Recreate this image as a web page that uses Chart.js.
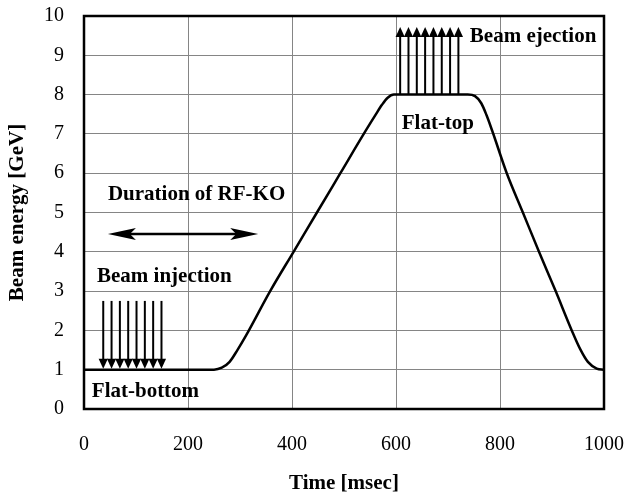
<!DOCTYPE html>
<html lang="en">
<head>
    <meta charset="UTF-8">
    <title>Beam energy cycle</title>
    <script src="https://cdn.jsdelivr.net/npm/chart.js"></script>
    <style>
        html, body { margin: 0; padding: 0; background: #fff; }
    </style>
</head>
<body>
    <canvas id="myChart" width="628" height="498"></canvas>

    <script>
        // beam energy pattern
        const timeMs = [0, 250, 265, 280, 295, 312, 358, 403, 448, 493, 538, 560, 573, 584, 596,
                        738, 752, 764, 774, 785, 813, 844, 875, 907, 938, 954, 969, 986, 1000];
        const energyGeV = [1, 1, 1.05, 1.2, 1.5, 1.88, 3, 4, 5, 6, 7, 7.47, 7.74, 7.92, 8,
                           8, 7.96, 7.78, 7.48, 7.08, 6, 5, 4, 3, 2, 1.53, 1.2, 1.03, 1];

        // injection / ejection pulse times [msec]
        const injectionTimes = [37, 53, 69, 85, 101, 117, 133, 149];
        const ejectionTimes = [608, 624, 640, 656, 672, 688, 704, 720];
        const injectionFrom = 2.75, flatBottom = 1;
        const flatTop = 8, ejectionTo = 9.72;
        const rfkoStart = 46, rfkoEnd = 335, rfkoLevel = 4.45;

        const serif = '"Liberation Serif", "Times New Roman", serif';

        const annotate = {
            id: 'annotate',
            afterDatasetsDraw(chart) {
                const { ctx, chartArea, scales: { x, y } } = chart;
                ctx.save();
                ctx.strokeStyle = '#000';
                ctx.fillStyle = '#000';
                ctx.lineWidth = 2;

                // injection arrows (down onto flat-bottom)
                const yInjTop = y.getPixelForValue(injectionFrom);
                const yInjTip = y.getPixelForValue(flatBottom) - 1;
                injectionTimes.forEach(t => {
                    const px = x.getPixelForValue(t);
                    ctx.beginPath();
                    ctx.moveTo(px, yInjTop);
                    ctx.lineTo(px, yInjTip - 8);
                    ctx.stroke();
                    ctx.beginPath();
                    ctx.moveTo(px - 4.6, yInjTip - 10);
                    ctx.lineTo(px + 4.6, yInjTip - 10);
                    ctx.lineTo(px, yInjTip);
                    ctx.closePath();
                    ctx.fill();
                });

                // ejection arrows (up from flat-top)
                const yEjBase = y.getPixelForValue(flatTop);
                const yEjTip = y.getPixelForValue(ejectionTo);
                ejectionTimes.forEach(t => {
                    const px = x.getPixelForValue(t);
                    ctx.beginPath();
                    ctx.moveTo(px, yEjBase);
                    ctx.lineTo(px, yEjTip + 8);
                    ctx.stroke();
                    ctx.beginPath();
                    ctx.moveTo(px - 4.6, yEjTip + 10);
                    ctx.lineTo(px + 4.6, yEjTip + 10);
                    ctx.lineTo(px, yEjTip);
                    ctx.closePath();
                    ctx.fill();
                });

                // duration of RF-KO double arrow
                const ya = y.getPixelForValue(rfkoLevel);
                const x1 = x.getPixelForValue(rfkoStart);
                const x2 = x.getPixelForValue(rfkoEnd);
                ctx.lineWidth = 2.5;
                ctx.beginPath();
                ctx.moveTo(x1 + 10, ya);
                ctx.lineTo(x2 - 10, ya);
                ctx.stroke();
                [[x1, 1], [x2, -1]].forEach(([px, d]) => {
                    ctx.beginPath();
                    ctx.moveTo(px, ya);
                    ctx.lineTo(px + d * 28, ya - 6);
                    ctx.lineTo(px + d * 22, ya);
                    ctx.lineTo(px + d * 28, ya + 6);
                    ctx.closePath();
                    ctx.fill();
                });

                // labels
                ctx.font = 'bold 21px ' + serif;
                ctx.textAlign = 'left';
                ctx.textBaseline = 'middle';
                const labels = [
                    ['Duration of RF-KO', 46, 5.46],
                    ['Beam injection', 25, 3.37],
                    ['Flat-bottom', 15, 0.45],
                    ['Flat-top', 611, 7.27],
                    ['Beam ejection', 742, 9.48]
                ];
                labels.forEach(([txt, t, v]) => {
                    ctx.fillText(txt, x.getPixelForValue(t), y.getPixelForValue(v));
                });

                // frame
                ctx.lineWidth = 2.5;
                ctx.strokeRect(chartArea.left, chartArea.top,
                    chartArea.right - chartArea.left, chartArea.bottom - chartArea.top);
                ctx.restore();
            }
        };

        // keep the plot area where the figure has it
        const noPad = s => { s.paddingTop = 0; s.paddingBottom = 0; s.paddingLeft = 0; s.paddingRight = 0; };

        const ctx = document.getElementById('myChart').getContext('2d');
        const myChart = new Chart(ctx, {
            type: 'line',
            data: {
                datasets: [{
                    label: 'Beam energy',
                    data: timeMs.map((t, i) => ({ x: t, y: energyGeV[i] })),
                    borderColor: '#000',
                    borderWidth: 2.5,
                    pointRadius: 0,
                    cubicInterpolationMode: 'monotone',
                    fill: false
                }]
            },
            options: {
                responsive: false,
                animation: false,
                devicePixelRatio: 1,
                layout: { padding: { top: 16, right: 24, left: 0, bottom: 0 } },
                plugins: {
                    legend: { display: false },
                    tooltip: { enabled: false }
                },
                scales: {
                    x: {
                        type: 'linear',
                        min: 0,
                        max: 1000,
                        afterFit: s => { s.height = 89; noPad(s); },
                        border: { display: false },
                        grid: { color: '#858585', lineWidth: 1, drawTicks: false },
                        ticks: {
                            stepSize: 200,
                            padding: 24,
                            color: '#000',
                            maxRotation: 0,
                            callback: v => String(v),
                            font: { family: serif, size: 20 }
                        },
                        title: {
                            display: true,
                            text: 'Time [msec]',
                            color: '#000',
                            padding: { bottom: 2 },
                            font: { family: serif, size: 21, weight: 'bold' }
                        }
                    },
                    y: {
                        min: 0,
                        max: 10,
                        afterFit: s => { s.width = 84; noPad(s); },
                        border: { display: false },
                        grid: { color: '#858585', lineWidth: 1, drawTicks: false },
                        ticks: {
                            stepSize: 1,
                            padding: 20,
                            color: '#000',
                            font: { family: serif, size: 20 }
                        },
                        title: {
                            display: true,
                            text: 'Beam energy [GeV]',
                            color: '#000',
                            padding: { top: 5 },
                            font: { family: serif, size: 21, weight: 'bold' }
                        }
                    }
                }
            },
            plugins: [annotate]
        });
    </script>
</body>
</html>
